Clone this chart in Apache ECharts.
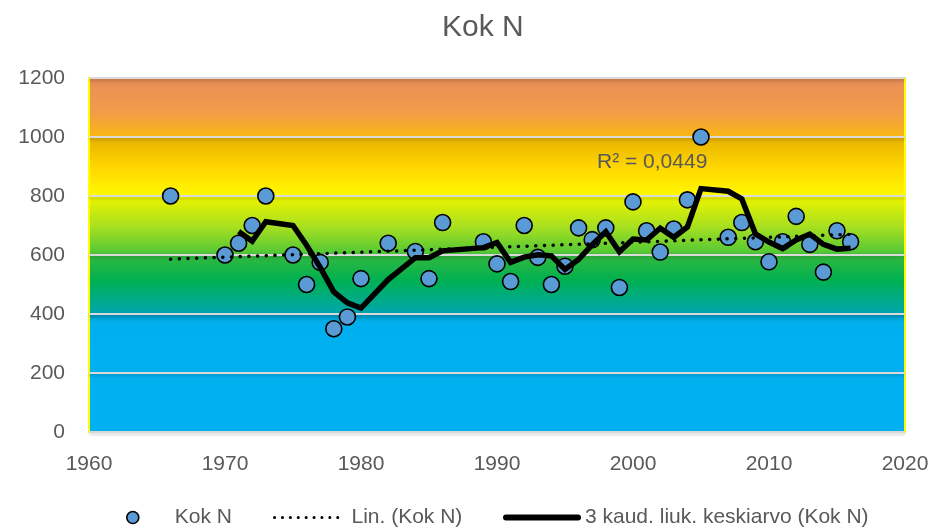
<!DOCTYPE html>
<html>
<head>
<meta charset="utf-8">
<script src="https://cdn.jsdelivr.net/npm/echarts@6/dist/echarts.min.js"></script>
<style>
html,body{margin:0;padding:0;background:#fff;}
#chart{width:948px;height:531px;}
</style>
</head>
<body>
<div id="chart"></div>
<script>
// Observed data (Kok N)
const years = [1966,1970,1971,1972,1973,1975,1976,1977,1978,1979,1980,1982,1984,1985,1986,1989,1990,1991,1992,1993,1994,1995,1996,1997,1998,1999,2000,2001,2002,2003,2004,2005,2007,2008,2009,2010,2011,2012,2013,2014,2015,2016];
const values = [800,600,640,700,800,600,500,575,350,390,520,640,612,520,710,645,570,510,700,592,500,562,692,652,692,490,780,682,610,688,787,1000,660,710,645,577,645,731,636,542,682,645];

// 3-period moving average line
const maYears = [1971,1972,1973,1975,1976,1977,1978,1979,1980,1982,1984,1985,1986,1989,1990,1991,1992,1993,1994,1995,1996,1997,1998,1999,2000,2001,2002,2003,2004,2005,2007,2008,2009,2010,2011,2012,2013,2014,2015,2016];
const maValues = [680,647,713,700,633,558,475,438,420,517,591,591,614,625,642,575,593,601,597,551,585,635,679,611,654,651,691,660,695,825,816,790,672,644,622,651,671,636,620,623];

// Linear trend line endpoints
const trendYears = [1966,2016];
const trendValues = [586,670];

const yTicks = [0,200,400,600,800,1000,1200];
const xTicks = [1960,1970,1980,1990,2000,2010,2020];

const seriesNames = ['Kok N','Lin. (Kok N)','3 kaud. liuk. keskiarvo (Kok N)'];
const titleText = 'Kok N';
const r2Text = 'R² = 0,0449';

const FONT = 'Liberation Sans';
const TXT = '#595959';

function pairs(xs, ys){ return xs.map((x,i)=>[x, ys[i]]); }

const chart = echarts.init(document.getElementById('chart'), null, {renderer:'canvas'});

const bg = new echarts.graphic.LinearGradient(0,0,0,1,[
  {offset:0.000, color:'#DD8852'},
  {offset:0.030, color:'#EC9255'},
  {offset:0.100, color:'#F29C48'},
  {offset:0.150, color:'#F8B020'},
  {offset:0.166, color:'#FAB818'},
  {offset:0.170, color:'#E6B200'},
  {offset:0.250, color:'#FFD500'},
  {offset:0.325, color:'#FFF500'},
  {offset:0.333, color:'#FFFF00'},
  {offset:0.342, color:'#E8F200'},
  {offset:0.420, color:'#A8E020'},
  {offset:0.490, color:'#58C934'},
  {offset:0.505, color:'#30B840'},
  {offset:0.570, color:'#00B050'},
  {offset:0.655, color:'#00A8A4'},
  {offset:0.668, color:'#0099C0'},
  {offset:0.690, color:'#00B0EE'},
  {offset:1.000, color:'#00B0F0'}
]);

const legendText = {color:TXT, fontFamily:FONT, fontSize:21};

const option = {
  animation:false,
  backgroundColor:'#ffffff',
  title:{
    text:titleText,
    left:437, top:8,
    textStyle:{fontFamily:FONT, fontSize:30, fontWeight:'normal', color:TXT}
  },
  grid:{
    left:89, right:43, top:78, bottom:99,
    show:true,
    backgroundColor:bg,
    borderColor:'#FFFF00',
    borderWidth:2
  },
  xAxis:{
    type:'value',
    min:xTicks[0], max:xTicks[xTicks.length-1], interval:10,
    axisLine:{show:false},
    axisTick:{show:false},
    splitLine:{show:false},
    axisLabel:{color:TXT, fontFamily:FONT, fontSize:21, margin:22, formatter:(v)=>String(v)}
  },
  yAxis:{
    type:'value',
    min:yTicks[0], max:yTicks[yTicks.length-1], interval:200,
    axisLine:{show:false},
    axisTick:{show:false},
    splitLine:{show:true, lineStyle:{color:'#D9D9D9', width:2, shadowColor:'rgba(0,0,0,0.18)', shadowBlur:3, shadowOffsetY:2}},
    axisLabel:{color:TXT, fontFamily:FONT, fontSize:21, margin:24, formatter:(v)=>String(v)}
  },
  legend:[
    {
      data:[seriesNames[0]], left:126, top:507, padding:0,
      itemWidth:12, itemHeight:13, icon:'circle',
      itemStyle:{color:'#5B9BD5', borderColor:'#000', borderWidth:1.6, opacity:1},
      textStyle:Object.assign({padding:[0,0,0,31]}, legendText)
    },
    {
      data:[seriesNames[1]], left:273, top:507, padding:0,
      itemWidth:64, itemHeight:12,
      itemStyle:{opacity:0},
      lineStyle:{color:'#000', width:3, type:[0.1,7.8], cap:'round'},
      textStyle:Object.assign({padding:[0,0,0,8]}, legendText)
    },
    {
      data:[seriesNames[2]], left:503, top:507, padding:0,
      itemWidth:72, itemHeight:12,
      itemStyle:{opacity:0},
      lineStyle:{color:'#000', width:6, cap:'round'},
      textStyle:Object.assign({padding:[0,0,0,2]}, legendText)
    }
  ],
  graphic:[
    {
      type:'text', x:597, y:162, z:100,
      style:{text:r2Text, font:'21px "Liberation Sans"', fill:TXT, textVerticalAlign:'middle'}
    }
  ],
  series:[
    {
      name:seriesNames[0], type:'scatter',
      data:pairs(years, values),
      symbol:'circle', symbolSize:16,
      itemStyle:{color:'#5B9BD5', borderColor:'#000', borderWidth:1.6, opacity:1},
      z:2
    },
    {
      name:seriesNames[1], type:'line',
      data:pairs(trendYears, trendValues),
      symbol:'none', showSymbol:false,
      lineStyle:{color:'#000', width:3.5, type:[0.1,8.6], cap:'round'},
      itemStyle:{color:'#000'},
      z:3
    },
    {
      name:seriesNames[2], type:'line',
      data:pairs(maYears, maValues),
      symbol:'none', showSymbol:false,
      lineStyle:{color:'#000', width:5.5, join:'miter'},
      itemStyle:{color:'#000'},
      z:4
    }
  ]
};
chart.setOption(option);
</script>
</body>
</html>
